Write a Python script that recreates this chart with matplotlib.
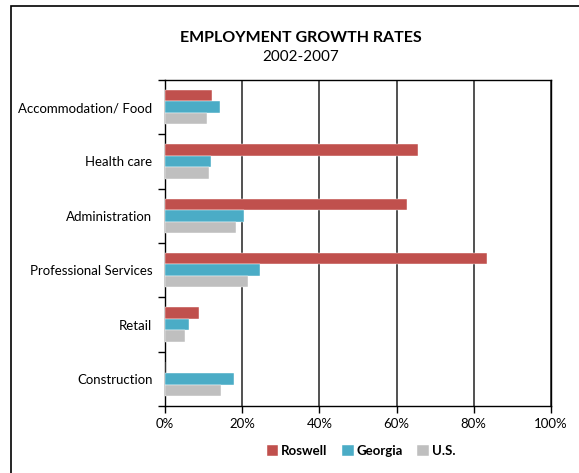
import matplotlib
matplotlib.use("Agg")
import matplotlib.pyplot as plt
from matplotlib.patches import Rectangle
from matplotlib.ticker import FuncFormatter, FixedLocator
import numpy as np

categories = ["Accommodation/ Food", "Health care", "Administration",
              "Professional Services", "Retail", "Construction"]
series_names = ["Roswell", "Georgia", "U.S."]
roswell = [12.3, 65.6, 62.8, 83.4, 8.8, 0.0]
georgia = [14.2, 11.9, 20.5, 24.6, 6.2, 18.0]
us = [11.0, 11.3, 18.4, 21.5, 5.3, 14.5]
colors = ["#C0504D", "#4BACC6", "#BFBFBF"]
x_ticks = [0, 20, 40, 60, 80, 100]

plt.rcParams["font.family"] = ["Lato", "DejaVu Sans"]

W, H = 579, 473
fig = plt.figure(figsize=(W / 100, H / 100), dpi=100)
ax = fig.add_axes([165 / W, 1 - 406 / H, (551 - 165) / W, (406 - 80) / H])

n = len(categories)
ypos = np.arange(n)[::-1].astype(float)
bh = 0.21
for i, (vals, c, name) in enumerate(zip([roswell, georgia, us], colors, series_names)):
    ax.barh(ypos + (1 - i) * bh, vals, height=bh, color=c, label=name,
            edgecolor="white", linewidth=0.3, zorder=3)

ax.set_xlim(0, 100)
ax.set_ylim(-0.5, n - 0.5)
ax.xaxis.set_major_locator(FixedLocator(x_ticks))
ax.xaxis.set_major_formatter(FuncFormatter(lambda v, p: f"{v:.0f}%"))
ax.set_yticks(ypos)
ax.set_yticklabels(categories)
ax.yaxis.set_minor_locator(FixedLocator(np.arange(-0.5, n, 1.0)))
ax.tick_params(axis="y", which="major", length=0, pad=9, labelsize=9.5)
ax.tick_params(axis="y", which="minor", length=5, width=1, direction="out", color="black")
ax.tick_params(axis="x", length=5, width=1, direction="out", labelsize=9.5, pad=4)
ax.grid(axis="x", color="#333333", linewidth=1.2, zorder=1)
for s in ax.spines.values():
    s.set_color("black")
    s.set_linewidth(1.0)

fig.text(301 / W, 1 - 38 / H, "EMPLOYMENT GROWTH RATES", ha="center", va="center",
         fontsize=11.5, fontweight="bold")
fig.text(301 / W, 1 - 57 / H, "2002-2007", ha="center", va="center", fontsize=11)

leg = fig.legend(loc="center", bbox_to_anchor=(361 / W, 1 - 451 / H), ncol=3,
                 frameon=False, handlelength=0.9, handleheight=0.9, handletextpad=0.2,
                 columnspacing=1.1, prop={"weight": "bold", "size": 9.5})

fig.patches.append(Rectangle((11 / W, -0.1), 1.2, 1.1 - 6 / H, transform=fig.transFigure,
                             fill=False, edgecolor="black", linewidth=1.2))

fig.savefig("out.png", dpi=100)
